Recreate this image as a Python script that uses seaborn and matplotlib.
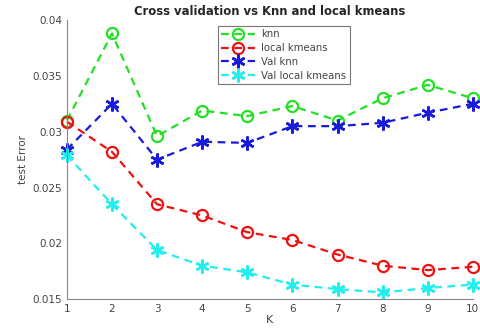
import pandas as pd
import numpy as np
import matplotlib
matplotlib.use("Agg")
import matplotlib.pyplot as plt
import seaborn as sns

# values
k = [1, 2, 3, 4, 5, 6, 7, 8, 9, 10]
knn = [0.0310, 0.0388, 0.0296, 0.0319, 0.0314, 0.0323, 0.0310, 0.0330, 0.0342, 0.0330]
local_kmeans = [0.0309, 0.0282, 0.0235, 0.0225, 0.0210, 0.0203, 0.0190, 0.0180, 0.0176, 0.0179]
val_knn = [0.0284, 0.0325, 0.0275, 0.0291, 0.0290, 0.0305, 0.0305, 0.0308, 0.0317, 0.0325]
val_local_kmeans = [0.0279, 0.0235, 0.0194, 0.0180, 0.0174, 0.0163, 0.0159, 0.0156, 0.0160, 0.0163]

series = [
    ("knn", knn, "#22e022", "o"),
    ("local kmeans", local_kmeans, "#ee1111", "o"),
    ("Val knn", val_knn, "#1a1add", (6, 2, 0)),
    ("Val local kmeans", val_local_kmeans, "#22eeee", (6, 2, 0)),
]

sns.set_style("white")
plt.rcParams['font.family'] = ['DejaVu Sans']

fig = plt.figure(figsize=(4.81, 3.35), dpi=100)
ax = fig.add_axes([0.139, 0.107, 0.844, 0.833])

for name, vals, col, mk in series:
    df = pd.DataFrame({"K": k, "err": vals})
    if mk == "o":
        kw = dict(markersize=8, markerfacecolor="none", markeredgecolor=col, markeredgewidth=1.6)
    else:
        kw = dict(markersize=10, markeredgecolor=col, markeredgewidth=1.8)
    sns.lineplot(data=df, x="K", y="err", ax=ax, color=col, marker=mk, linestyle=(0, (3.5, 2.5)),
                 linewidth=1.6, label=name, clip_on=False, **kw)

ax.set_xlim(1, 10)
ax.set_ylim(0.015, 0.04)
ax.set_xticks(k)
ax.set_yticks([0.015, 0.02, 0.025, 0.03, 0.035, 0.04])
ax.set_yticklabels(["0.015", "0.02", "0.025", "0.03", "0.035", "0.04"])
ax.tick_params(direction="in", length=3, labelsize=7.5, colors="#555555", labelcolor="#444444")
for s in ["top", "right"]:
    ax.spines[s].set_visible(False)
for s in ["left", "bottom"]:
    ax.spines[s].set_color("#888888")
    ax.spines[s].set_linewidth(0.8)

ax.set_xlabel("K", fontsize=8, color="#444444", labelpad=1)
ax.set_ylabel("test Error", fontsize=7.5, color="#444444", labelpad=3)
ax.set_title("Cross validation vs Knn and local kmeans", fontsize=8.4, fontweight="bold", pad=4)

leg = ax.legend(loc="upper left", bbox_to_anchor=(0.372, 0.98), fontsize=7.3, frameon=True,
                fancybox=False, handlelength=3.3, borderpad=0.35, labelspacing=0.38,
                handletextpad=0.6, borderaxespad=0)
leg.get_frame().set_edgecolor("#555555")
leg.get_frame().set_linewidth(0.8)
for t in leg.get_texts():
    t.set_color("#444444")

fig.savefig("out.png", dpi=100)
